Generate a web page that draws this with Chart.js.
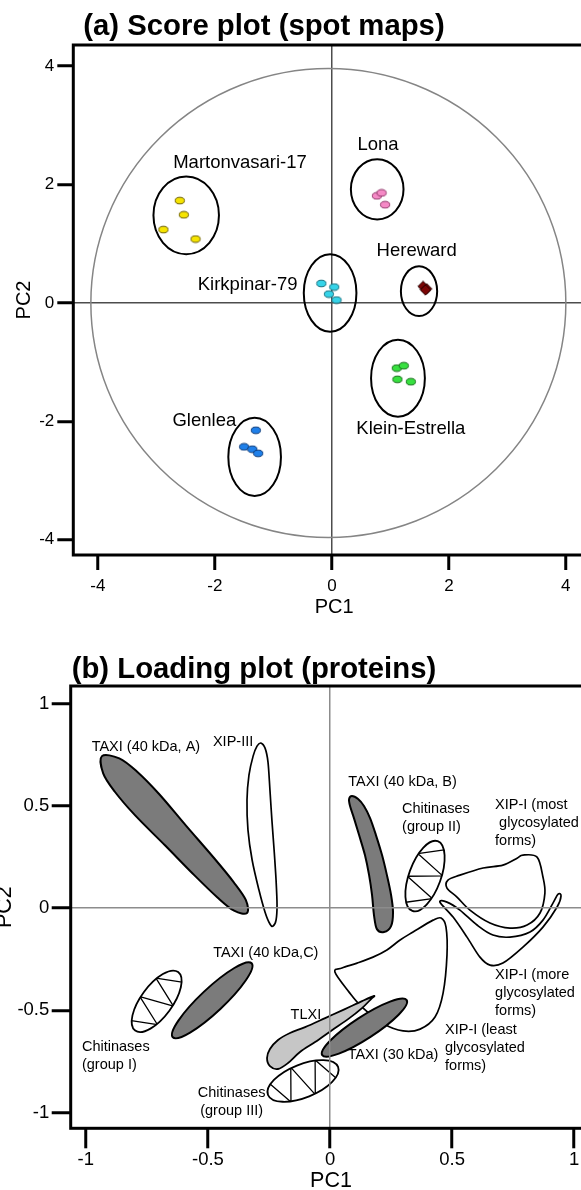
<!DOCTYPE html>
<html>
<head>
<meta charset="utf-8">
<title>PCA score and loading plots</title>
<script src="https://cdn.jsdelivr.net/npm/chart.js@4.4.1/dist/chart.umd.min.js"></script>
<style>
html, body { margin:0; padding:0; width:581px; height:1190px; overflow:hidden; background:#fff; }
.wrap { position:absolute; }
#w1 { left:0; top:0; width:620px; height:625px; }
#w2 { left:-10px; top:640px; width:630px; height:560px; }
canvas { display:block; }
</style>
</head>
<body>
<div class="wrap" id="w1"><canvas id="c1" width="620" height="625" style="width:620px;height:625px"></canvas></div>
<div class="wrap" id="w2"><canvas id="c2" width="630" height="560" style="width:630px;height:560px"></canvas></div>
<script>
/* ================= DATA ================= */
/* (a) Score plot (spot maps) */
const scoreTitle = '(a) Score plot (spot maps)';
const scoreTicks = [-4, -2, 0, 2, 4];
const cultivarNames = ['Martonvasari-17', 'Lona', 'Kirkpinar-79', 'Hereward', 'Klein-Estrella', 'Glenlea'];
const martonvasariPC1 = [-2.60, -2.53, -2.88, -2.33];
const martonvasariPC2 = [1.73, 1.49, 1.24, 1.08];
const lonaPC1 = [0.77, 0.85, 0.91];
const lonaPC2 = [1.81, 1.86, 1.66];
const kirkpinarPC1 = [-0.18, 0.04, -0.05, 0.08];
const kirkpinarPC2 = [0.33, 0.27, 0.15, 0.05];
const herewardPC1 = [1.56, 1.62, 1.60];
const herewardPC2 = [0.28, 0.24, 0.22];
const kleinEstrellaPC1 = [1.11, 1.23, 1.12, 1.35];
const kleinEstrellaPC2 = [-1.10, -1.06, -1.29, -1.33];
const glenleaPC1 = [-1.30, -1.50, -1.36, -1.26];
const glenleaPC2 = [-2.15, -2.43, -2.47, -2.54];
/* group ellipses (same order as cultivarNames) */
const groupCentrePC1 = [-2.49, 0.775, -0.03, 1.49, 1.13, -1.32];
const groupCentrePC2 = [1.48, 1.92, 0.17, 0.20, -1.27, -2.60];
const groupHalfPC1 = [0.56, 0.45, 0.45, 0.31, 0.46, 0.45];
const groupHalfPC2 = [0.655, 0.51, 0.655, 0.42, 0.65, 0.66];
const cultivarLabelPC1 = [-1.57, 0.79, -1.44, 1.45, 1.35, -2.18];
const cultivarLabelPC2 = [2.36, 2.67, 0.30, 0.88, -2.13, -1.99];
const circleCentre = [-0.06, 0];
const circleHalfAxes = [4.06, 3.96];

/* (b) Loading plot (proteins) */
const loadingTitle = '(b) Loading plot (proteins)';
const loadingTicks = [-1, -0.5, 0, 0.5, 1];
const xipLeastPC1 = [0.020, 0.078, 0.131, 0.221, 0.299, 0.369, 0.430, 0.463, 0.479, 0.475, 0.455, 0.422, 0.340, 0.287, 0.233, 0.176, 0.111, 0.049];
const xipLeastPC2 = [-0.313, -0.411, -0.484, -0.567, -0.601, -0.592, -0.533, -0.416, -0.230, -0.093, -0.049, -0.059, -0.117, -0.156, -0.205, -0.240, -0.269, -0.293];
const xipMorePC1 = [0.450, 0.504, 0.561, 0.614, 0.655, 0.708, 0.790, 0.872, 0.930, 0.946, 0.934, 0.913, 0.872, 0.819, 0.737, 0.667, 0.602, 0.532, 0.479];
const xipMorePC2 = [0.029, -0.044, -0.142, -0.240, -0.279, -0.269, -0.191, -0.093, 0.005, 0.059, 0.068, 0.024, -0.059, -0.117, -0.142, -0.132, -0.083, -0.010, 0.029];
const xipMostPC1 = [0.790, 0.848, 0.872, 0.880, 0.860, 0.807, 0.737, 0.655, 0.573, 0.520, 0.479, 0.483, 0.532, 0.627, 0.708, 0.766];
const xipMostPC2 = [0.259, 0.249, 0.152, 0.073, -0.024, -0.083, -0.098, -0.073, -0.010, 0.054, 0.098, 0.137, 0.161, 0.196, 0.210, 0.244];
const taxiBPC1 = [0.090, 0.115, 0.139, 0.164, 0.188, 0.213, 0.233, 0.250, 0.258, 0.250, 0.221, 0.192, 0.180, 0.172, 0.160, 0.143, 0.119, 0.098, 0.082, 0.078];
const taxiBPC2 = [0.548, 0.533, 0.499, 0.440, 0.357, 0.259, 0.161, 0.064, -0.020, -0.088, -0.117, -0.103, -0.034, 0.064, 0.161, 0.259, 0.357, 0.440, 0.499, 0.533];
const xip3PC1 = [-0.283, -0.266, -0.254, -0.246, -0.238, -0.229, -0.221, -0.217, -0.221, -0.233, -0.246, -0.266, -0.291, -0.319, -0.336, -0.340, -0.332, -0.315, -0.299];
const xip3PC2 = [0.807, 0.782, 0.714, 0.577, 0.430, 0.284, 0.137, 0.015, -0.059, -0.088, -0.078, -0.020, 0.088, 0.235, 0.381, 0.528, 0.650, 0.743, 0.792];
const taxiAPC1 = [-0.934, -0.863, -0.792, -0.701, -0.589, -0.476, -0.394, -0.345, -0.340, -0.393, -0.461, -0.555, -0.676, -0.798, -0.882, -0.929];
const taxiAPC2 = [0.743, 0.732, 0.669, 0.559, 0.402, 0.246, 0.126, 0.040, -0.024, -0.013, 0.052, 0.160, 0.307, 0.453, 0.570, 0.659];
const tlxiPC1 = [0.180, 0.131, 0.061, -0.020, -0.102, -0.164, -0.213, -0.246, -0.258, -0.246, -0.213, -0.172, -0.123, -0.061, 0.008, 0.074, 0.131, 0.168];
const tlxiPC2 = [-0.430, -0.455, -0.494, -0.538, -0.582, -0.611, -0.645, -0.689, -0.733, -0.773, -0.787, -0.758, -0.704, -0.655, -0.597, -0.543, -0.489, -0.445];
/* elliptical regions: the two ends of the long axis */
const chitinase2Ends = [[0.441, 0.327], [0.337, -0.014]];
const taxiCEnds = [[-0.321, -0.270], [-0.644, -0.632]];
const chitinase1Ends = [[-0.622, -0.313], [-0.798, -0.599]];
const chitinase3Ends = [[0.033, -0.777], [-0.254, -0.914]];
const taxi30Ends = [[0.314, -0.450], [-0.032, -0.719]];
/* labels */
const proteinLabelText = [['TAXI (40 kDa, A)'], ['XIP-III'], ['TAXI (40 kDa, B)'], ['Chitinases', '(group II)'],
  ['XIP-I (most', ' glycosylated', 'forms)'], ['XIP-I (more', 'glycosylated', 'forms)'], ['XIP-I (least', 'glycosylated', 'forms)'],
  ['TAXI (30 kDa)'], ['TLXI'], ['TAXI (40 kDa,C)'], ['Chitinases', '(group I)'], ['Chitinases', '(group III)']];
const proteinLabelPC1 = [-0.754, -0.397, 0.297, 0.295, 0.676, 0.676, 0.471, 0.258, -0.099, -0.263, -1.016, -0.403];
const proteinLabelPC2 = [0.789, 0.813, 0.618, 0.483, 0.504, -0.328, -0.597, -0.719, -0.523, -0.218, -0.681, -0.906];

/* ================= STYLE ================= */
const FONT = '"Liberation Sans", Arial, Helvetica, sans-serif';
Chart.defaults.font.family = FONT;
Chart.defaults.color = '#000';
const dotFill = ['#f6e400', '#f58ac6', '#35d3e8', '#7a0505', '#38e040', '#1f80ea'];
const dotEdge = ['#6e6000', '#93386c', '#17707e', '#2a0000', '#157018', '#0c3b7a'];
const proteinLabelAlign = ['center', 'center', 'center', 'left', 'left', 'left', 'left', 'center', 'center', 'center', 'left', 'center'];
const DARK = '#7b7b7b', LIGHT = '#c6c6c6', WHITE = '#ffffff';

function pts(xs, ys) { return xs.map((x, i) => ({ x: x, y: ys[i] })); }
function endPts(e) { return e.map(p => ({ x: p[0], y: p[1] })); }

function makeDot(fill, edge) {
  const c = document.createElement('canvas'); c.width = 12; c.height = 9;
  const g = c.getContext('2d');
  g.beginPath(); g.ellipse(6, 4.5, 4.6, 3.3, 0, 0, Math.PI * 2);
  g.fillStyle = fill; g.fill(); g.lineWidth = 1; g.strokeStyle = edge; g.stroke();
  return c;
}
function makeDiamond(fill, edge) {
  const c = document.createElement('canvas'); c.width = 12; c.height = 12;
  const g = c.getContext('2d');
  g.beginPath(); g.moveTo(6, 0.8); g.lineTo(11.2, 6); g.lineTo(6, 11.2); g.lineTo(0.8, 6); g.closePath();
  g.fillStyle = fill; g.fill(); g.lineWidth = 1; g.strokeStyle = edge; g.stroke();
  return c;
}
function closedSpline(ctx, p) {
  const n = p.length;
  ctx.moveTo(p[0].x, p[0].y);
  for (let i = 0; i < n; i++) {
    const p0 = p[(i - 1 + n) % n], p1 = p[i], p2 = p[(i + 1) % n], p3 = p[(i + 2) % n];
    const t = 1 / 6;
    ctx.bezierCurveTo(p1.x + (p2.x - p0.x) * t, p1.y + (p2.y - p0.y) * t,
                      p2.x - (p3.x - p1.x) * t, p2.y - (p3.y - p1.y) * t, p2.x, p2.y);
  }
  ctx.closePath();
}
function drawEllipseShape(ctx, p1, p2, ratio, fill, hatch, lw) {
  const cx = (p1.x + p2.x) / 2, cy = (p1.y + p2.y) / 2;
  const a = Math.hypot(p2.x - p1.x, p2.y - p1.y) / 2, b = a * ratio;
  const ang = Math.atan2(p2.y - p1.y, p2.x - p1.x);
  ctx.save(); ctx.translate(cx, cy); ctx.rotate(ang);
  ctx.beginPath(); ctx.ellipse(0, 0, a, b, 0, 0, Math.PI * 2);
  ctx.fillStyle = fill; ctx.fill();
  if (hatch) {
    ctx.save(); ctx.clip(); ctx.beginPath();
    for (let k = 0; k < hatch; k++) {
      const u = -a * 0.84 + k * (1.68 * a) / (hatch - 1);
      const v = (k % 2 ? 1 : -1) * b * Math.sqrt(Math.max(0, 1 - (u / a) * (u / a))) * 1.05;
      if (k) ctx.lineTo(u, v); else ctx.moveTo(u, v);
    }
    ctx.lineWidth = 1.3; ctx.strokeStyle = '#000'; ctx.stroke(); ctx.restore();
  }
  ctx.beginPath(); ctx.ellipse(0, 0, a, b, 0, 0, Math.PI * 2);
  ctx.lineWidth = lw; ctx.strokeStyle = '#000'; ctx.stroke();
  ctx.restore();
}
function zeroGrid(col, lw, tickLen) {
  return {
    color: c => (c.tick && c.tick.value === 0) ? col : 'rgba(0,0,0,0)',
    lineWidth: lw, tickColor: '#000', tickWidth: 3, tickLength: tickLen,
    drawTicks: true, drawOnChartArea: true
  };
}
function clipArea(ctx, a) { ctx.beginPath(); ctx.rect(a.left, a.top, a.right - a.left, a.bottom - a.top); ctx.clip(); }

/* ================= CHART (a) ================= */
const scorePC1 = [martonvasariPC1, lonaPC1, kirkpinarPC1, herewardPC1, kleinEstrellaPC1, glenleaPC1];
const scorePC2 = [martonvasariPC2, lonaPC2, kirkpinarPC2, herewardPC2, kleinEstrellaPC2, glenleaPC2];

const scorePlugin = {
  id: 'scoreShapes',
  beforeDatasetsDraw(chart) {
    const { ctx, chartArea: a } = chart, x = chart.scales.x, y = chart.scales.y;
    ctx.save(); clipArea(ctx, a);
    const cx = x.getPixelForValue(circleCentre[0]), cy = y.getPixelForValue(circleCentre[1]);
    const rx = Math.abs(x.getPixelForValue(circleCentre[0] + circleHalfAxes[0]) - cx);
    const ry = Math.abs(y.getPixelForValue(circleCentre[1] + circleHalfAxes[1]) - cy);
    ctx.beginPath(); ctx.ellipse(cx, cy, rx, ry, 0, 0, Math.PI * 2);
    ctx.strokeStyle = '#858585'; ctx.lineWidth = 1.5; ctx.stroke();
    for (let i = 0; i < groupCentrePC1.length; i++) {
      const ex = x.getPixelForValue(groupCentrePC1[i]), ey = y.getPixelForValue(groupCentrePC2[i]);
      const erx = Math.abs(x.getPixelForValue(groupCentrePC1[i] + groupHalfPC1[i]) - ex);
      const ery = Math.abs(y.getPixelForValue(groupCentrePC2[i] + groupHalfPC2[i]) - ey);
      ctx.beginPath(); ctx.ellipse(ex, ey, erx, ery, 0, 0, Math.PI * 2);
      ctx.strokeStyle = '#000'; ctx.lineWidth = 2; ctx.stroke();
    }
    ctx.restore();
  },
  afterDraw(chart) {
    const { ctx, chartArea: a } = chart, x = chart.scales.x, y = chart.scales.y;
    ctx.save();
    ctx.fillStyle = '#000'; ctx.font = '18.5px ' + FONT; ctx.textAlign = 'center'; ctx.textBaseline = 'middle';
    cultivarNames.forEach((n, i) => ctx.fillText(n, x.getPixelForValue(cultivarLabelPC1[i]), y.getPixelForValue(cultivarLabelPC2[i])));
    ctx.strokeStyle = '#000'; ctx.lineWidth = 3;
    ctx.strokeRect(a.left, a.top, a.right - a.left, a.bottom - a.top);
    ctx.font = 'bold 29.3px ' + FONT; ctx.textAlign = 'left'; ctx.textBaseline = 'alphabetic';
    ctx.fillText(scoreTitle, a.left + 10, a.top - 10);
    ctx.restore();
  }
};

new Chart(document.getElementById('c1'), {
  type: 'scatter',
  data: {
    datasets: cultivarNames.map((n, i) => ({
      label: n,
      data: pts(scorePC1[i], scorePC2[i]),
      pointStyle: i === 3 ? makeDiamond(dotFill[i], dotEdge[i]) : makeDot(dotFill[i], dotEdge[i]),
      pointRadius: 5, pointHoverRadius: 5, showLine: false
    }))
  },
  options: {
    responsive: false, animation: false, events: [],
    layout: { padding: { left: 0, top: 45, right: 24.9, bottom: 0 } },
    plugins: { legend: { display: false }, tooltip: { enabled: false } },
    scales: {
      x: {
        type: 'linear', min: -4.42, max: 4.5,
        afterBuildTicks: s => { s.ticks = scoreTicks.map(v => ({ value: v })); },
        ticks: { callback: v => String(v), autoSkip: false, maxRotation: 0, font: { size: 17 }, color: '#000', padding: 6 },
        grid: zeroGrid('#4d4d4d', 1.5, 15),
        border: { display: false },
        title: { display: true, text: 'PC1', font: { size: 20 }, color: '#000', padding: { top: 0, bottom: 6 } },
        afterFit: s => { s.height = 70; }
      },
      y: {
        type: 'linear', min: -4.257, max: 4.358,
        afterBuildTicks: s => { s.ticks = scoreTicks.map(v => ({ value: v })); },
        ticks: { callback: v => String(v), autoSkip: false, font: { size: 17 }, color: '#000', padding: 3 },
        grid: zeroGrid('#4d4d4d', 1.5, 16),
        border: { display: false },
        title: { display: true, text: 'PC2', font: { size: 20 }, color: '#000', padding: { top: 12, bottom: 0 } },
        afterFit: s => { s.width = 73.3; }
      }
    }
  },
  plugins: [scorePlugin]
});

/* ================= CHART (b) ================= */
const loadingShapes = [
  { label: 'XIP-I (least glycosylated forms)', kind: 'outline', data: pts(xipLeastPC1, xipLeastPC2), fill: WHITE, lw: 1.7 },
  { label: 'XIP-I (more glycosylated forms)', kind: 'outline', data: pts(xipMorePC1, xipMorePC2), fill: WHITE, lw: 1.7 },
  { label: 'XIP-I (most glycosylated forms)', kind: 'outline', data: pts(xipMostPC1, xipMostPC2), fill: WHITE, lw: 1.7 },
  { label: 'Chitinases (group II)', kind: 'ellipse', data: endPts(chitinase2Ends), fill: WHITE, lw: 1.8, ratio: 0.43, hatch: 6 },
  { label: 'TAXI (40 kDa, B)', kind: 'outline', data: pts(taxiBPC1, taxiBPC2), fill: DARK, lw: 2 },
  { label: 'XIP-III', kind: 'outline', data: pts(xip3PC1, xip3PC2), fill: WHITE, lw: 1.7 },
  { label: 'TAXI (40 kDa, A)', kind: 'outline', data: pts(taxiAPC1, taxiAPC2), fill: DARK, lw: 2 },
  { label: 'TAXI (40 kDa,C)', kind: 'ellipse', data: endPts(taxiCEnds), fill: DARK, lw: 2, ratio: 0.22, hatch: 0 },
  { label: 'Chitinases (group I)', kind: 'ellipse', data: endPts(chitinase1Ends), fill: WHITE, lw: 1.8, ratio: 0.435, hatch: 6 },
  { label: 'Chitinases (group III)', kind: 'ellipse', data: endPts(chitinase3Ends), fill: WHITE, lw: 1.8, ratio: 0.44, hatch: 6 },
  { label: 'TLXI', kind: 'outline', data: pts(tlxiPC1, tlxiPC2), fill: LIGHT, lw: 1.8 },
  { label: 'TAXI (30 kDa)', kind: 'ellipse', data: endPts(taxi30Ends), fill: DARK, lw: 2, ratio: 0.22, hatch: 0 }
];

const loadingPlugin = {
  id: 'loadingShapes',
  beforeDatasetsDraw(chart) {
    const { ctx, chartArea: a } = chart;
    ctx.save(); clipArea(ctx, a);
    ctx.lineJoin = 'round';
    chart.data.datasets.forEach((ds, i) => {
      const meta = chart.getDatasetMeta(i);
      const p = meta.data.map(e => ({ x: e.x, y: e.y }));
      if (ds.shapeKind === 'outline') {
        ctx.beginPath(); closedSpline(ctx, p);
        ctx.fillStyle = ds.shapeFill; ctx.fill();
        ctx.lineWidth = ds.shapeLine; ctx.strokeStyle = '#000'; ctx.stroke();
      } else {
        drawEllipseShape(ctx, p[0], p[1], ds.shapeRatio, ds.shapeFill, ds.shapeHatch, ds.shapeLine);
      }
    });
    ctx.restore();
  },
  afterDraw(chart) {
    const { ctx, chartArea: a } = chart, x = chart.scales.x, y = chart.scales.y;
    ctx.save();
    ctx.fillStyle = '#000'; ctx.font = '14.5px ' + FONT; ctx.textBaseline = 'middle';
    proteinLabelText.forEach((lines, i) => {
      ctx.textAlign = proteinLabelAlign[i];
      const px = x.getPixelForValue(proteinLabelPC1[i]), py = y.getPixelForValue(proteinLabelPC2[i]);
      lines.forEach((t, k) => ctx.fillText(t, px, py + k * 18));
    });
    ctx.strokeStyle = '#000'; ctx.lineWidth = 3;
    ctx.strokeRect(a.left, a.top, a.right - a.left, a.bottom - a.top);
    ctx.font = 'bold 29.3px ' + FONT; ctx.textAlign = 'left'; ctx.textBaseline = 'alphabetic';
    ctx.fillText(loadingTitle, a.left + 1, a.top - 8);
    ctx.restore();
  }
};

new Chart(document.getElementById('c2'), {
  type: 'scatter',
  data: {
    datasets: loadingShapes.map(s => ({
      label: s.label, data: s.data, shapeKind: s.kind, shapeFill: s.fill, shapeLine: s.lw,
      shapeRatio: s.ratio, shapeHatch: s.hatch,
      pointRadius: 0, pointHoverRadius: 0, borderWidth: 0, showLine: false
    }))
  },
  options: {
    responsive: false, animation: false, events: [],
    layout: { padding: { left: 0, top: 46, right: 28.7, bottom: 0 } },
    plugins: { legend: { display: false }, tooltip: { enabled: false } },
    scales: {
      x: {
        type: 'linear', min: -1.062, max: 1.07,
        afterBuildTicks: s => { s.ticks = loadingTicks.map(v => ({ value: v })); },
        ticks: { callback: v => String(v), autoSkip: false, maxRotation: 0, font: { size: 18.5 }, color: '#000', padding: 1 },
        grid: Object.assign(zeroGrid('#8c8c8c', 1.5, 20), { z: 1 }),
        border: { display: false },
        title: { display: true, text: 'PC1', font: { size: 21.5 }, color: '#000', padding: { top: 0, bottom: 6 } },
        afterFit: s => { s.height = 71.7; }
      },
      y: {
        type: 'linear', min: -1.077, max: 1.086,
        afterBuildTicks: s => { s.ticks = loadingTicks.map(v => ({ value: v })); },
        ticks: { callback: v => String(v), autoSkip: false, font: { size: 18.5 }, color: '#000', padding: 2.4 },
        grid: Object.assign(zeroGrid('#8c8c8c', 1.5, 19), { z: 1 }),
        border: { display: false },
        title: { display: true, text: 'PC2', font: { size: 21.5 }, color: '#000', padding: { top: 2.6, bottom: 0 } },
        afterFit: s => { s.width = 80.7; }
      }
    }
  },
  plugins: [loadingPlugin]
});
</script>
</body>
</html>
